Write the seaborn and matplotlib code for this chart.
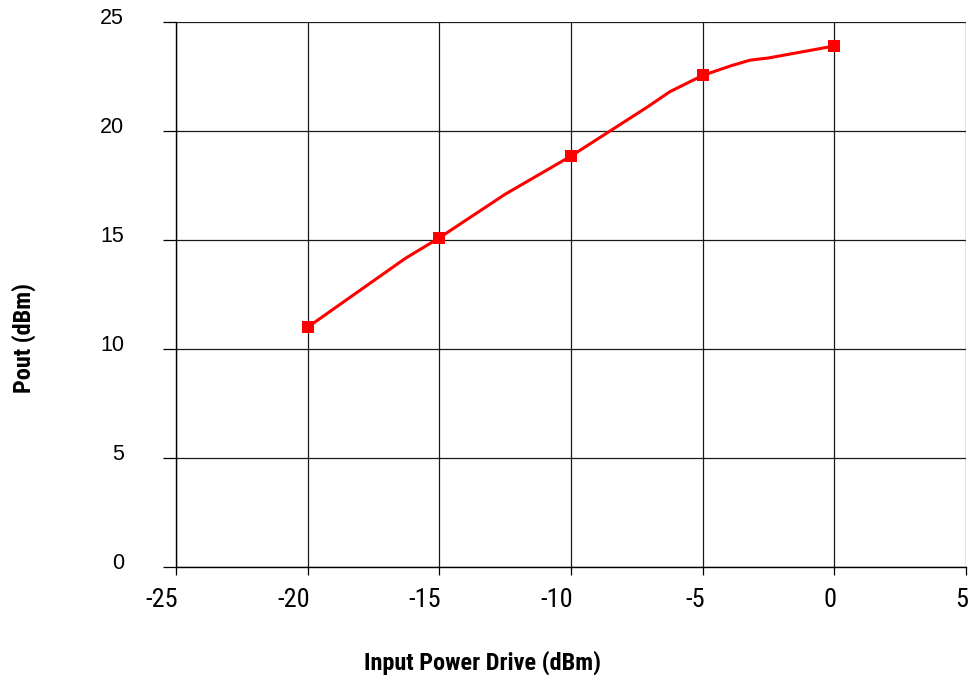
import matplotlib
matplotlib.use("Agg")
import matplotlib.pyplot as plt
from matplotlib.transforms import ScaledTranslation
import seaborn as sns
import pandas as pd

# Data
input_drive = [-20, -16.3, -15, -12.5, -10, -7.1, -6.25, -5, -3.9, -3.2, -2.5, 0]
pout = [11.0, 14.15, 15.1, 17.1, 18.85, 21.1, 21.8, 22.55, 23.0, 23.25, 23.35, 23.9]
marker_idx = [0, 2, 4, 7, 11]
x_ticks = [-25, -20, -15, -10, -5, 0, 5]
y_ticks = [0, 5, 10, 15, 20, 25]

sns.set_style("white")
plt.rcParams['font.family'] = ['Liberation Sans', 'DejaVu Sans']
plt.rcParams['text.color'] = 'black'
plt.rcParams['axes.labelcolor'] = 'black'
plt.rcParams['xtick.color'] = 'black'
plt.rcParams['ytick.color'] = 'black'
plt.rcParams['xtick.labelcolor'] = 'black'
plt.rcParams['ytick.labelcolor'] = 'black'
narrow = ['Roboto Condensed', 'DejaVu Sans']

fig = plt.figure(figsize=(9.69, 6.79), dpi=100)
ax = fig.add_axes([176/969, 112/679, 790/969, 545/679])

df = pd.DataFrame({"x": input_drive, "y": pout})
sns.lineplot(data=df, x="x", y="y", ax=ax, color="#ff0000", linewidth=2.2,
             marker="s", markersize=8, markeredgewidth=0, markevery=marker_idx,
             sort=False)

ax.set_xlim(-25, 5)
ax.set_ylim(0, 25)
ax.set_xticks(x_ticks)
ax.set_yticks(y_ticks)
ax.set_xticklabels([str(v) for v in x_ticks], family=narrow, fontsize=19, ha="right",
                   color="black")
ax.set_yticklabels([str(v) for v in y_ticks], family=['Liberation Sans', 'DejaVu Sans'],
                   fontsize=15.5, color="black")
ax.grid(True, color="#1a1a1a", linewidth=0.9)
ax.set_axisbelow(True)
for s in ["top", "right"]:
    ax.spines[s].set_visible(False)
for s in ["left", "bottom"]:
    ax.spines[s].set_color("black")
    ax.spines[s].set_linewidth(1.0)
ax.tick_params(axis="y", length=9.5, width=0.9, color="black", pad=28, left=True)
ax.tick_params(axis="x", length=6, width=0.9, color="black", pad=9, bottom=True)

shift_up = ScaledTranslation(0, 6/100, fig.dpi_scale_trans)
for lab in ax.get_yticklabels():
    lab.set_transform(lab.get_transform() + shift_up)
shift_x = ScaledTranslation(2/100, 0, fig.dpi_scale_trans)
for lab in ax.get_xticklabels():
    lab.set_transform(lab.get_transform() + shift_x)

ax.set_xlabel("Input Power Drive (dBm)", family=narrow,
              fontweight="bold", fontsize=17.5, color="black")
ax.set_ylabel("Pout (dBm)", family=narrow,
              fontweight="bold", fontsize=17.5, color="black")
ax.xaxis.set_label_coords((483-176)/790, -(651-567)/545)
ax.yaxis.set_label_coords(-(176-36)/790, (567-338)/545)

fig.savefig("out.png", dpi=100)
